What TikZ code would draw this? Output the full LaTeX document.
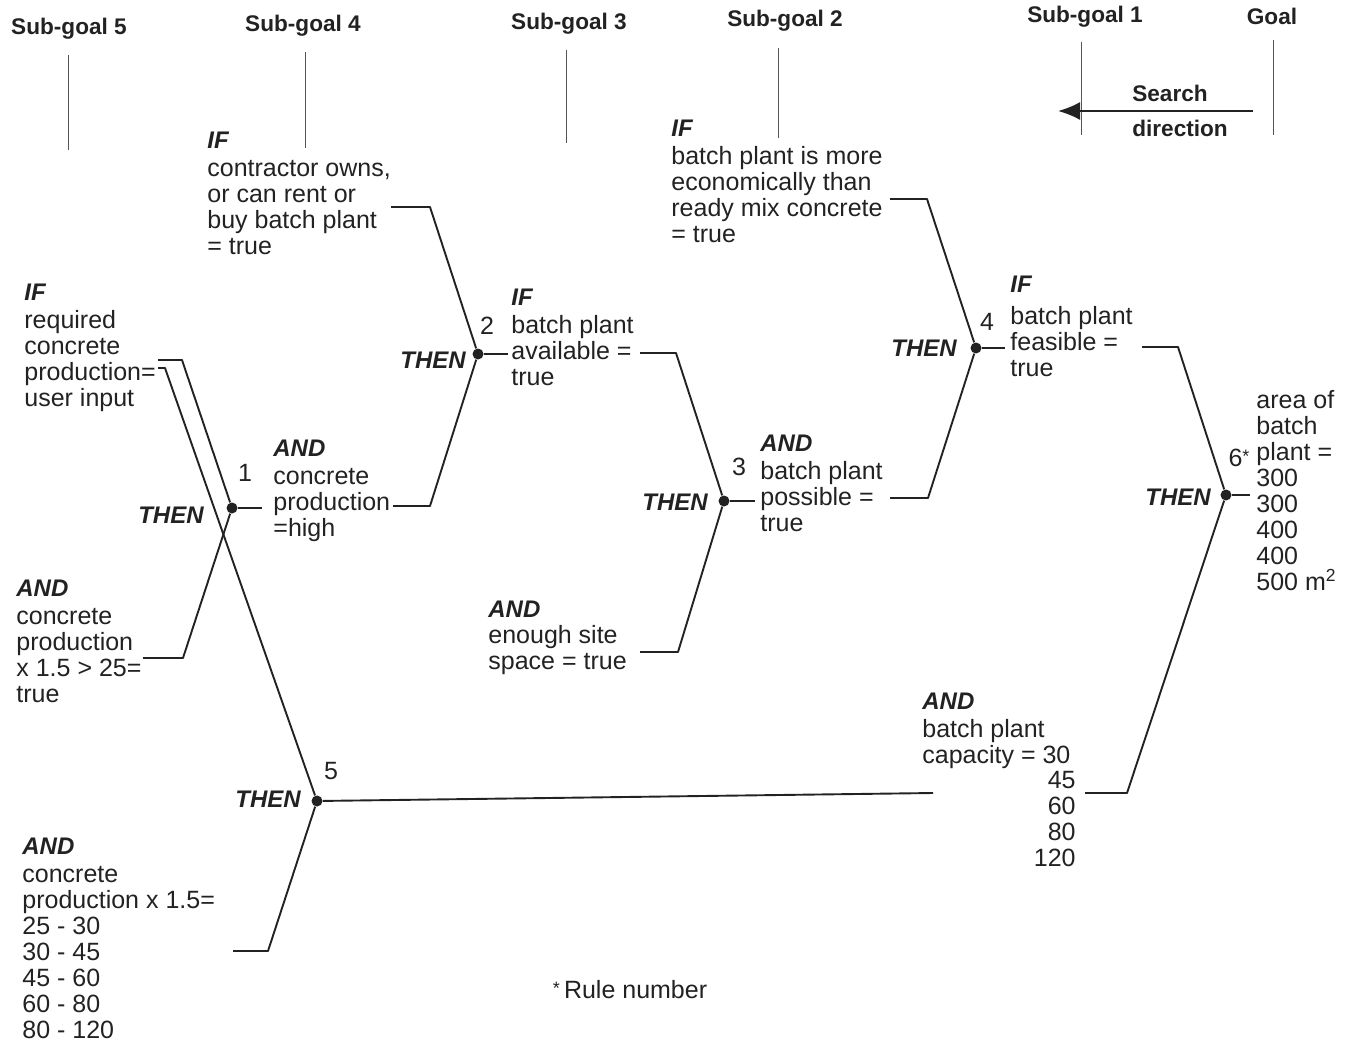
\documentclass[tikz,border=0pt]{standalone}
\usepackage{fontspec}
\setmainfont{Liberation Sans}
\usetikzlibrary{arrows.meta}
\definecolor{ink}{HTML}{222222}
\definecolor{tickgray}{HTML}{555555}
\newcommand{\bodyf}{\fontsize{12.5}{13}\selectfont}
\newcommand{\kwf}{\fontsize{12}{13}\selectfont\bfseries\itshape}
\newcommand{\hdrf}{\fontsize{11.3}{13}\selectfont\bfseries}
\newcommand{\KW}[1]{{\kwf #1}}
\begin{document}
\begin{tikzpicture}[x=0.5pt,y=-0.5pt,
 txt/.style={anchor=north west, inner sep=0pt, align=left, font=\bodyf, text=ink},
 kwlab/.style={inner sep=0pt, font=\kwf, text=ink},
 num/.style={inner sep=0pt, font=\bodyf, text=ink},
 hdr/.style={inner sep=0pt, font=\hdrf, text=ink},
 conn/.style={draw=ink, line width=0.95pt, line join=round},
 ruledot/.style={circle, fill=ink, inner sep=0pt, minimum size=5.5pt},
 tick/.style={draw=tickgray, line width=0.5pt}]

\useasboundingbox (0,0) rectangle (1353,1044);

% ---- header ----
\node[hdr] (h5) at (69,29) {Sub-goal 5};
\node[hdr] (h4) at (303,26) {Sub-goal 4};
\node[hdr] (h3) at (569,24) {Sub-goal 3};
\node[hdr] (h2) at (785,21) {Sub-goal 2};
\node[hdr] (h1) at (1085,17) {Sub-goal 1};
\node[hdr] (h0) at (1272,16) {Goal};
\draw[tick] (68,55) -- (68,150);
\draw[tick] (305,52) -- (305,148);
\draw[tick] (566,50) -- (566,143);
\draw[tick] (778,48) -- (778,138);
\draw[tick] (1081,42) -- (1081,135);
\draw[tick] (1273,40) -- (1273,135);

\node[hdr] (sd1) at (1170,93) {Search};
\node[hdr] (sd2) at (1180,128) {direction};
\coordinate (ar1) at (1253,111);
\coordinate (ar2) at (1058,111);
\draw[conn, -{Latex[length=11pt,width=9pt]}] (ar1) -- (ar2);

% ---- rule dots ----
\node[ruledot] (n1) at (232,508) {};
\node[ruledot] (n2) at (478,354) {};
\node[ruledot] (n3) at (724,501) {};
\node[ruledot] (n4) at (976,348) {};
\node[ruledot] (n5) at (317,801) {};
\node[ruledot] (n6) at (1226,495) {};

% rule numbers
\node[num] (l1) at (245,473) {1};
\node[num] (l2) at (487,326) {2};
\node[num] (l3) at (739,467) {3};
\node[num] (l4) at (987,322) {4};
\node[num] (l5) at (331,771) {5};
\node[num] (l6) at (1239,458) {6\raisebox{2pt}{\small*}};

% THEN labels
\node[kwlab] (t1) at (171,515) {THEN};
\node[kwlab] (t2) at (433,360) {THEN};
\node[kwlab] (t3) at (675,502) {THEN};
\node[kwlab] (t4) at (924,348) {THEN};
\node[kwlab] (t5) at (268,799) {THEN};
\node[kwlab] (t6) at (1178,497) {THEN};

% ---- text blocks ----
\node[txt] (r1if) at (24,284) {\KW{IF}\\[1pt] required\\ concrete\\ production=\\ user input};
\node[txt] (r1and) at (16,580) {\KW{AND}\\[1pt] concrete\\ production\\ x 1.5 > 25=\\ true};
\node[txt] (r1out) at (273,440) {\KW{AND}\\[1pt] concrete\\ production\\ =high};
\node[txt] (r2if) at (207,132) {\KW{IF}\\[1pt] contractor owns,\\ or can rent or\\ buy batch plant\\ = true};
\node[txt] (r2out) at (511,289) {\KW{IF}\\[1pt] batch plant\\ available =\\ true};
\node[txt] (r3and) at (488,601) {\KW{AND}\\[0pt] enough site\\ space = true};
\node[txt] (r3out) at (760,435) {\KW{AND}\\[1pt] batch plant\\ possible =\\ true};
\node[txt] (r4if) at (671,120) {\KW{IF}\\[1pt] batch plant is more\\ economically than\\ ready mix concrete\\ = true};
\node[txt] (r4out) at (1010,276) {\KW{IF}\\[3pt] batch plant\\ feasible =\\ true};
\node[txt] (r6out) at (1256,390) {area of\\ batch\\ plant =\\ 300\\ 300\\ 400\\ 400\\ 500 m\textsuperscript{2}};
\node[txt] (r5cap) at (922,693) {\KW{AND}\\[1pt] batch plant\\ capacity = 30};
\node[txt, anchor=north east, align=right] (r5num) at (1076,771) {45\\ 60\\ 80\\ 120};
\node[txt] (r5in) at (22,838) {\KW{AND}\\[1pt] concrete\\ production x 1.5=\\ 25 - 30\\ 30 - 45\\ 45 - 60\\ 60 - 80\\ 80 - 120};

\node[num] (fn) at (630,990) {\raisebox{2pt}{\small*}\,Rule number};

% ---- connector corner coordinates ----
\coordinate (a1) at (158,360); \coordinate (a2) at (182,360);
\coordinate (b1) at (158,368); \coordinate (b2) at (165,368);
\coordinate (c1) at (143,658); \coordinate (c2) at (183,658);
\coordinate (d1) at (262,508);
\coordinate (e1) at (393,506); \coordinate (e2) at (430,506);
\coordinate (f1) at (391,207); \coordinate (f2) at (430,207);
\coordinate (g1) at (508,354);
\coordinate (h1a) at (640,353); \coordinate (h1b) at (676,353);
\coordinate (i1) at (640,652); \coordinate (i2) at (678,652);
\coordinate (j1) at (755,501);
\coordinate (k1) at (890,498); \coordinate (k2) at (928,498);
\coordinate (m1) at (890,199); \coordinate (m2) at (927,199);
\coordinate (o1) at (1005,348);
\coordinate (p1) at (1142,347); \coordinate (p2) at (1178,347);
\coordinate (q1) at (1250,495);
\coordinate (s1) at (1085,793); \coordinate (s2) at (1127,793);
\coordinate (u1) at (933,793);
\coordinate (v1) at (233,951); \coordinate (v2) at (268,951);

% ---- connectors ----
\draw[conn] (a1) -- (a2) -- (n1);
\draw[conn] (b1) -- (b2) -- (n5);
\draw[conn] (c1) -- (c2) -- (n1);
\draw[conn] (n1) -- (d1);
\draw[conn] (e1) -- (e2) -- (n2);
\draw[conn] (f1) -- (f2) -- (n2);
\draw[conn] (n2) -- (g1);
\draw[conn] (h1a) -- (h1b) -- (n3);
\draw[conn] (i1) -- (i2) -- (n3);
\draw[conn] (n3) -- (j1);
\draw[conn] (k1) -- (k2) -- (n4);
\draw[conn] (m1) -- (m2) -- (n4);
\draw[conn] (n4) -- (o1);
\draw[conn] (p1) -- (p2) -- (n6);
\draw[conn] (s1) -- (s2) -- (n6);
\draw[conn] (n6) -- (q1);
\draw[conn] (n5) -- (u1);
\draw[conn] (v1) -- (v2) -- (n5);
\end{tikzpicture}
\end{document}
